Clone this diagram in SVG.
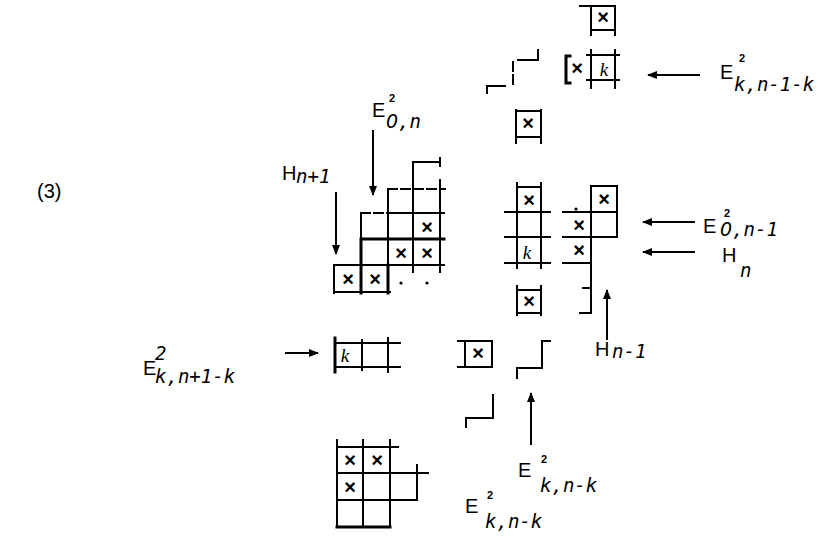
<svg xmlns="http://www.w3.org/2000/svg" width="818" height="538" viewBox="0 0 818 538">
<style>
.l{stroke:#000;stroke-width:2;fill:none;stroke-linecap:square}
.h{stroke-width:3}
.d{stroke-dasharray:9 4}
.x{font-family:"Liberation Sans",sans-serif;font-size:20px;font-weight:bold;text-anchor:middle}
.k{font-family:"Liberation Serif",serif;font-style:italic;font-size:19px;text-anchor:middle}
.E{font-family:"Liberation Sans",sans-serif;font-size:20px}
.s{font-family:"DejaVu Sans Mono",monospace;font-style:italic;font-size:19px}
.z{font-family:"DejaVu Sans",sans-serif;font-style:italic}
.p{font-family:"Liberation Sans",sans-serif;font-weight:bold;font-size:11px}
.a{stroke:#000;stroke-width:2;fill:none}
.dot{fill:#000}
</style>
<defs>
<marker id="ah" viewBox="0 0 10 8" refX="9" refY="4" markerWidth="10" markerHeight="8" markerUnits="userSpaceOnUse" orient="auto">
<path d="M0,0 L10,4 L0,8 Z" fill="#000"/>
</marker>
</defs>
<rect width="818" height="538" fill="#fff"/>
<text x="37" y="198" font-family="Liberation Sans,sans-serif" font-size="20">(3)</text>

<g id="staircase">
<path class="l" d="M413,170 V162 H440 M440,158 V166"/>
<path class="l" d="M440,180 V272 M413,162 V272"/>
<path class="l d" d="M388,189 H445"/>
<path class="l" d="M388,189 V265"/>
<path class="l h" d="M388,265 V293"/>
<path class="l d" d="M361,213 H388"/>
<path class="l" d="M388,213 H444 M361,213 V239"/>
<path class="l h" d="M361,239 H444 M361,239 V293"/>
<path class="l" d="M334,265 H444 M334,265 V293 M334,292 H390"/>
<circle class="dot" cx="401" cy="283" r="1.6"/>
<circle class="dot" cx="427" cy="283" r="1.6"/>
<text class="x" x="348" y="286">×</text>
<text class="x" x="375" y="286">×</text>
<text class="x" x="401" y="260">×</text>
<text class="x" x="427" y="260">×</text>
<text class="x" x="427" y="234">×</text>
</g>

<g id="col-top">
<path class="l" d="M580,6 H615 M591,6 V35 M615,6 V35 M591,30 H615"/>
<text class="x" x="603" y="24">×</text>
<path class="l" d="M591,50 V88 M615,50 V88 M587,55 H619 M587,80 H619"/>
<path class="l h" d="M570,56 H566 V83 H570"/>
<text class="x" x="577" y="75">×</text>
<text class="k" x="604" y="76">k</text>
</g>

<g id="steps-top">
<path class="l" d="M487,93 V86 H505"/>
<path class="l d" d="M513,62 V84"/>
<path class="l" d="M518,60 H538 V50"/>
</g>

<g id="box-mid1">
<path class="l" d="M516,110 V143 M541,110 V143 M516,111 H541 M516,137 H541"/>
<text class="x" x="528" y="130">×</text>
</g>

<g id="col-mid">
<path class="l" d="M517,183 V268 M541,183 V268 M517,187 H541"/>
<path class="l" d="M505,212 H550 M505,237 H550 M505,263 H550"/>
<text class="x" x="529" y="207">×</text>
<text class="k" x="527" y="259">k</text>
</g>

<g id="group-right">
<path class="l" d="M591,186 H617 V237 M591,186 V313 H580 M583,288 H591"/>
<path class="l" d="M563,212 H617 M563,237 H617 M563,263 H591"/>
<circle class="dot" cx="576" cy="209" r="1.6"/>
<text class="x" x="604" y="206">×</text>
<text class="x" x="579" y="232">×</text>
<text class="x" x="579" y="257">×</text>
</g>

<g id="box-mid2">
<path class="l" d="M517,286 V315 M541,286 V315 M517,290 H541 M517,313 H541"/>
<text class="x" x="529" y="308">×</text>
</g>

<g id="box-low">
<path class="l" d="M458,341 H492 V367 H458 M465,341 V367"/>
<text class="x" x="478" y="360">×</text>
</g>

<g id="steps-low1">
<path class="l" d="M517,378 V368 H542 V341 H550"/>
</g>

<g id="steps-low2">
<path class="l" d="M466,427 V418 H493 V395"/>
</g>

<g id="row-k">
<path class="l h" d="M335,338 V372"/>
<path class="l" d="M362,340 V370 M388,338 V372 M335,343 H400 M335,367 H400"/>
<text class="k" x="345" y="362">k</text>
</g>

<g id="grid-bottom">
<path class="l" d="M337,440 V527 M363,440 V527 M390,440 V527"/>
<path class="l" d="M337,447 H398 M337,473 H428 M417,465 V500 M337,500 H417"/>
<path class="l h" d="M337,527 H390"/>
<text class="x" x="350" y="467">×</text>
<text class="x" x="377" y="467">×</text>
<text class="x" x="350" y="494">×</text>
</g>

<g id="labels">
<text class="E" x="720" y="79">E</text><text class="p" x="739" y="62">2</text><text class="s" x="734" y="91">k,n-1-k</text>
<text class="E" x="703" y="233">E</text><text class="p" x="724" y="217">2</text><text class="s" x="720" y="236"><tspan class="z">0</tspan>,n-1</text>
<text class="E" x="722" y="262">H</text><text class="s" x="740" y="277">n</text>
<text class="E" x="595" y="356">H</text><text class="s" x="612" y="358">n-1</text>
<text class="E" x="372" y="117">E</text><text class="p" x="389" y="102">2</text><text class="s" x="386" y="128"><tspan class="z">0</tspan>,n</text>
<text class="E" x="282" y="180" font-size="16">H</text><text class="s" x="296" y="183" font-size="15">n+1</text>
<text class="E" x="143" y="375">E</text><text class="s" x="155" y="360" font-size="16">2</text><text class="s" x="155" y="383">k,n+1-k</text>
<text class="E" x="518" y="477">E</text><text class="p" x="541" y="463">2</text><text class="s" x="540" y="492" font-size="20">k,n-k</text>
<text class="E" x="465" y="513">E</text><text class="p" x="487" y="499">2</text><text class="s" x="485" y="528">k,n-k</text>
</g>

<g id="connectors">
<line class="a" x1="700" y1="75" x2="648" y2="75" marker-end="url(#ah)"/>
<line class="a" x1="695" y1="222" x2="643" y2="222" marker-end="url(#ah)"/>
<line class="a" x1="695" y1="252" x2="643" y2="252" marker-end="url(#ah)"/>
<line class="a" x1="607" y1="340" x2="607" y2="290" marker-end="url(#ah)"/>
<line class="a" x1="531" y1="445" x2="531" y2="393" marker-end="url(#ah)"/>
<line class="a" x1="285" y1="353" x2="318" y2="353" marker-end="url(#ah)"/>
<line class="a" x1="336" y1="192" x2="336" y2="254" marker-end="url(#ah)"/>
<line class="a" x1="373" y1="130" x2="373" y2="195" marker-end="url(#ah)"/>
</g>
</svg>
